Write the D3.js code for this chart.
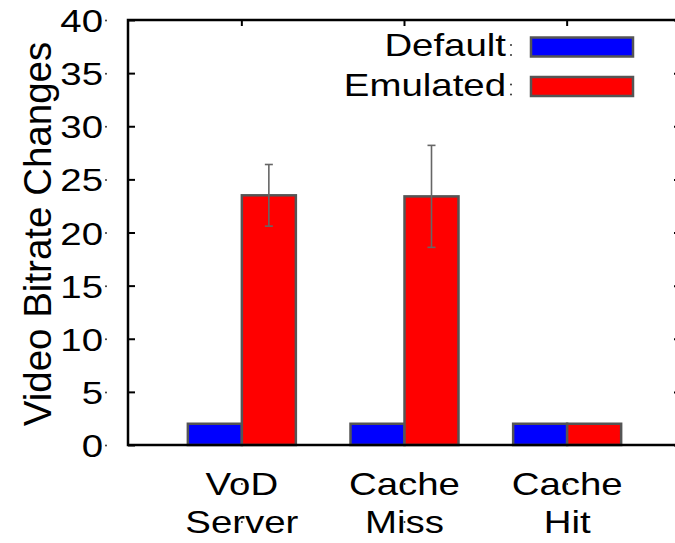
<!DOCTYPE html>
<html>
<head>
<meta charset="utf-8">
<script src="https://cdn.jsdelivr.net/npm/d3@7/dist/d3.min.js"></script>
<style>
  html, body { margin: 0; padding: 0; background: #fff; }
  svg { display: block; }
  text { font-family: "Liberation Sans", Arial, Helvetica, sans-serif; fill: #000; }
</style>
</head>
<body>
<svg id="chart" width="675" height="543"></svg>
<script>
// Bitrate changes per delivery path, default vs emulated player
const categories = [["VoD", "Server"], ["Cache", "Miss"], ["Cache", "Hit"]];
const seriesNames = ["Default", "Emulated"];
const defaultValues = [2, 2, 2];
const emulatedValues = [23.5, 23.4, 2];
const emulatedErrors = [2.9, 4.8, 0];
const yTicks = [0, 5, 10, 15, 20, 25, 30, 35, 40];
const colors = ["#0000ff", "#ff0000"];

const svg = d3.select("#chart");

const plotL = 128, plotR = 681, plotT = 20, plotB = 445;
const y = d3.scaleLinear().domain([0, 40]).range([plotB, plotT]);
const x = d3.scaleLinear().domain([-0.7, 2.7]).range([plotL, plotR]);
const barW = 54;
const fontSize = 32, stretch = 1.2;

// bars
const groups = [defaultValues, emulatedValues];
groups.forEach((vals, s) => {
  svg.append("g").selectAll("rect").data(vals).join("rect")
    .attr("x", (d, i) => s === 0 ? x(i) - barW : x(i))
    .attr("y", d => y(d))
    .attr("width", barW)
    .attr("height", d => y(0) - y(d))
    .attr("fill", colors[s])
    .attr("stroke", "#555")
    .attr("stroke-width", 2.5);
});

// error bars on the emulated series
const eb = svg.append("g").attr("stroke", "#666").attr("stroke-width", 1.6);
emulatedValues.forEach((v, i) => {
  const e = emulatedErrors[i];
  if (!e) return;
  const cx = x(i) + barW / 2;
  eb.append("line").attr("x1", cx).attr("x2", cx).attr("y1", y(v - e)).attr("y2", y(v + e));
  [v - e, v + e].forEach(t => eb.append("line")
    .attr("x1", cx - 4).attr("x2", cx + 4).attr("y1", y(t)).attr("y2", y(t)));
});

// frame
svg.append("path")
  .attr("d", `M${plotL},${plotT}V${plotB}H${plotR}V${plotT}Z`)
  .attr("fill", "none").attr("stroke", "#000").attr("stroke-width", 2.5);

// y axis ticks (inward, mirrored) and labels
const yAxis = d3.axisLeft(y).tickValues(yTicks).tickSize(-7);
const gy = svg.append("g").attr("transform", `translate(${plotL},0)`).call(yAxis);
gy.select(".domain").remove();
gy.selectAll(".tick line").attr("stroke", "#000").attr("stroke-width", 2);
gy.selectAll(".tick text")
  .attr("font-size", fontSize).attr("x", 0).attr("dy", null).attr("y", 11.5)
  .attr("transform", `translate(-25,0) scale(${stretch},1)`);
gy.selectAll(".tick").append("circle").attr("cx", -22).attr("cy", 0).attr("r", 1).attr("fill", "#333");
const gyr = svg.append("g").attr("transform", `translate(${plotR},0)`)
  .call(d3.axisRight(y).tickValues(yTicks).tickSize(-7).tickFormat(""));
gyr.select(".domain").remove();
gyr.selectAll(".tick line").attr("stroke", "#000").attr("stroke-width", 2);

// top mirror ticks at category centers
svg.append("g").selectAll("line").data(categories).join("line")
  .attr("x1", (d, i) => x(i)).attr("x2", (d, i) => x(i))
  .attr("y1", plotT).attr("y2", plotT + 6)
  .attr("stroke", "#000").attr("stroke-width", 2);

// category labels
const xl = svg.append("g").selectAll("g").data(categories).join("g")
  .attr("transform", (d, i) => `translate(${x(i)},0)`);
xl.selectAll("text").data(d => d).join("text")
  .attr("text-anchor", "middle")
  .attr("transform", (d, j) => `translate(0,${495 + j * 38}) scale(${stretch},1)`)
  .attr("font-size", fontSize)
  .text(d => d);
xl.selectAll("circle").data(d => d).join("circle")
  .attr("cx", 0).attr("cy", (d, j) => 484 + j * 38).attr("r", 1).attr("fill", "#333");

// y axis title
svg.append("text")
  .attr("transform", "translate(51,234) rotate(-90)")
  .attr("text-anchor", "middle")
  .attr("font-size", 38.5)
  .text("Video Bitrate Changes");

// legend
const lg = svg.append("g").selectAll("g").data(seriesNames).join("g")
  .attr("transform", (d, i) => `translate(0,${i * 39.5})`);
lg.append("text").attr("text-anchor", "end")
  .attr("transform", `translate(506,56) scale(${stretch},1)`)
  .attr("font-size", fontSize).text(d => d);
lg.append("rect").attr("x", 531).attr("y", 37.5).attr("width", 102).attr("height", 19)
  .attr("fill", (d, i) => colors[i]).attr("stroke", "#555").attr("stroke-width", 2.5);
lg.append("circle").attr("cx", 511).attr("cy", 45).attr("r", 1).attr("fill", "#333");
lg.append("circle").attr("cx", 511).attr("cy", 55).attr("r", 1).attr("fill", "#333");
</script>
</body>
</html>
